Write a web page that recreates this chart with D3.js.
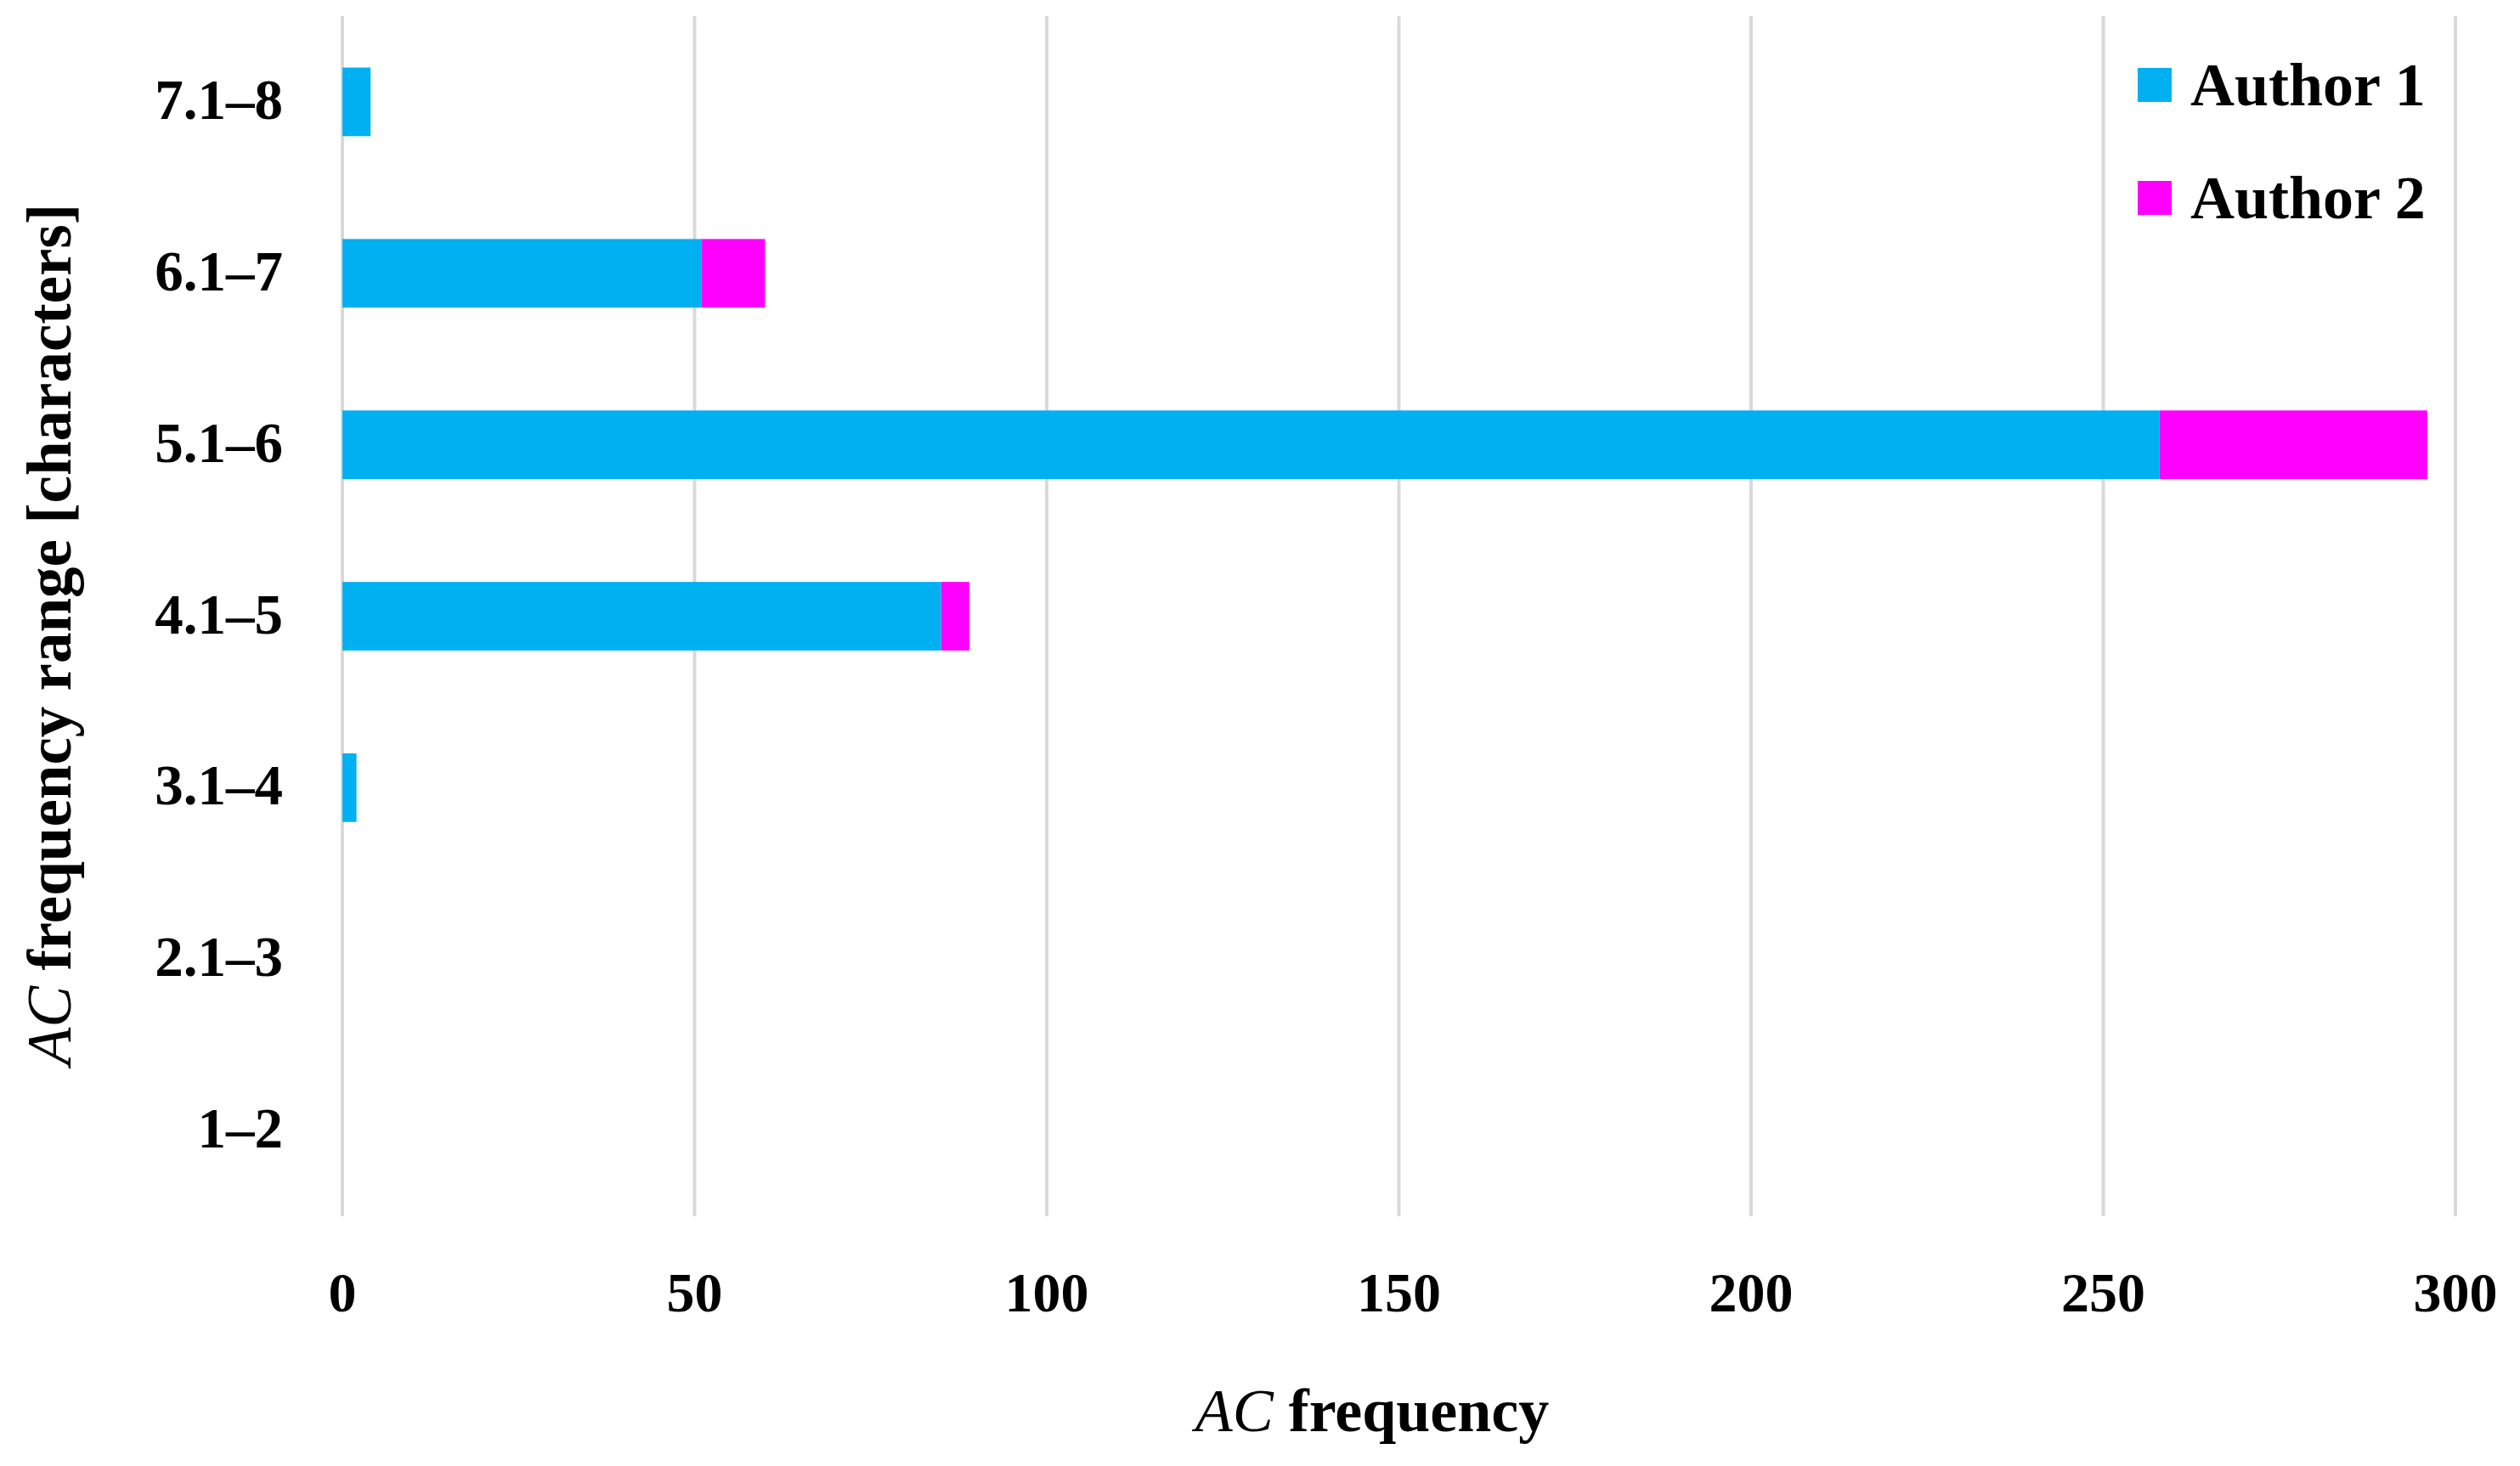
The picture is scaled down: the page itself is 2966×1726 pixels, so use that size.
<!DOCTYPE html>
<html>
<head>
<meta charset="utf-8">
<script src="https://cdn.jsdelivr.net/npm/d3@7"></script>
<style>
  html, body { margin: 0; padding: 0; background: #fff; }
  svg { display: block; }
  text { font-family: "Liberation Serif", "DejaVu Serif", serif; font-weight: bold; fill: #000; }
</style>
</head>
<body>
<svg id="chart" width="2966" height="1726"></svg>
<script>
const categories = ["7.1–8", "6.1–7", "5.1–6", "4.1–5", "3.1–4", "2.1–3", "1–2"];
const author1 = [4, 51, 258, 85, 2, 0, 0];
const author2 = [0, 9, 38, 4, 0, 0, 0];
const seriesNames = ["Author 1", "Author 2"];
const seriesColors = ["#00B0F0", "#FF00FF"];
const xTicks = [0, 50, 100, 150, 200, 250, 300];

(function () {
const svg = d3.select("#chart");
const W = 2966, H = 1726;
svg.append("rect").attr("width", W).attr("height", H).attr("fill", "#fff");

const pLeft = 403, pRight = 2890, pTop = 19, pBottom = 1432;

const x = d3.scaleLinear().domain([0, 300]).range([pLeft, pRight]);
const y = d3.scaleBand().domain(categories).range([pTop, pBottom]).paddingInner(0.6).paddingOuter(0.3);

// gridlines
svg.append("g").selectAll("line").data(xTicks).join("line")
  .attr("x1", d => x(d)).attr("x2", d => x(d))
  .attr("y1", pTop).attr("y2", pBottom)
  .attr("stroke", "#d9d9d9").attr("stroke-width", 4);

// stacked data
const rows = categories.map((c, i) => ({ cat: c, a1: author1[i], a2: author2[i] }));
const stack = d3.stack().keys(["a1", "a2"])(rows);

svg.append("g").selectAll("g").data(stack).join("g")
  .attr("fill", (d, i) => seriesColors[i])
  .selectAll("rect").data(d => d).join("rect")
  .attr("x", d => x(d[0]))
  .attr("width", d => Math.max(0, x(d[1]) - x(d[0])))
  .attr("y", d => y(d.data.cat))
  .attr("height", y.bandwidth());

// y tick labels
svg.append("g").selectAll("text").data(categories).join("text")
  .attr("x", 333)
  .attr("y", d => y(d) + y.bandwidth() / 2)
  .attr("dy", "0.3em")
  .attr("text-anchor", "end")
  .attr("font-size", 67)
  .text(d => d);

// x tick labels
svg.append("g").selectAll("text").data(xTicks).join("text")
  .attr("x", d => x(d))
  .attr("y", 1523)
  .attr("dy", "0.32em")
  .attr("text-anchor", "middle")
  .attr("font-size", 66)
  .text(d => d);

// x axis title
const xt = svg.append("text")
  .attr("x", 1615).attr("y", 1661).attr("dy", "0.33em")
  .attr("text-anchor", "middle").attr("font-size", 72);
xt.append("tspan").attr("font-style", "italic").attr("font-weight", "normal").text("AC");
xt.append("tspan").text(" frequency");

// y axis title
const yt = svg.append("text")
  .attr("transform", "translate(57,747) rotate(-90)")
  .attr("dy", "0.35em")
  .attr("text-anchor", "middle").attr("font-size", 73);
yt.append("tspan").attr("font-style", "italic").attr("font-weight", "normal").text("AC");
yt.append("tspan").text(" frequency range [characters]");

// legend
const legendY = [100, 233];
const lg = svg.append("g").selectAll("g").data(seriesNames).join("g")
  .attr("transform", (d, i) => `translate(2516,${legendY[i]})`);
lg.append("rect").attr("x", 0).attr("y", -20).attr("width", 40).attr("height", 40)
  .attr("fill", (d, i) => seriesColors[i]);
lg.append("text").attr("x", 62).attr("y", 0).attr("dy", "0.33em")
  .attr("font-size", 72).text(d => d);
})();
</script>
</body>
</html>
